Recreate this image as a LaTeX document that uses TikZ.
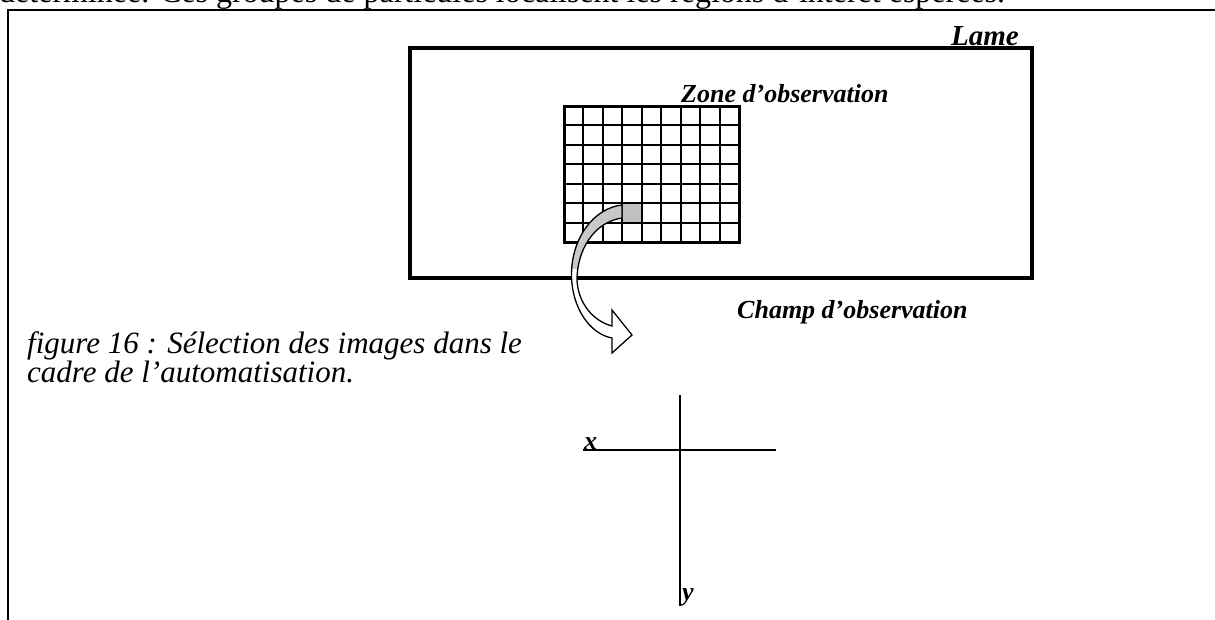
\documentclass[tikz,border=0pt]{standalone}
\usepackage{fontspec}
\setmainfont{Liberation Serif}
\definecolor{cellgray}{RGB}{192,192,192}
\definecolor{arrowgray}{RGB}{200,200,200}
\tikzset{
  lbl/.style={font=\fontsize{26}{30}\selectfont\bfseries\itshape, inner sep=0pt},
  biglbl/.style={font=\fontsize{29}{33}\selectfont\bfseries\itshape, inner sep=0pt},
  captxt/.style={font=\fontsize{31}{29}\selectfont\itshape, inner sep=0pt},
  bodytxt/.style={font=\fontsize{32}{36}\selectfont, inner sep=0pt},
  gridline/.style={line width=1.8pt},
  axisline/.style={line width=2pt},
  framebox/.style={line width=2pt},
}
\begin{document}
\begin{tikzpicture}[x=1pt,y=-1pt]
\useasboundingbox (0,0) rectangle (1215,619);
\clip (0,0) rectangle (1215,619);

% cut-off text line at the top
\node[bodytxt, anchor=base west] (toptext) at (-1,2.5)
  {déterminée. Ces groupes de particules localisent les régions d’intérêt espérées.};

% page frame
\coordinate (fbl) at (8,625);
\coordinate (ftl) at (8,10);
\coordinate (ftr) at (1220,10);
\draw[framebox] (fbl) -- (ftl) -- (ftr);

% slide (Lame)
\node[draw, line width=4pt, minimum width=622pt, minimum height=230pt, inner sep=0pt, outer sep=0pt] (lame) at (721,163) {};
\node[biglbl, anchor=base east] (lamelbl) at (1019,45.5) {Lame};

% observation zone grid
\node[minimum width=175pt, minimum height=136pt, inner sep=0pt, outer sep=0pt] (zone) at (651.5,174) {};
\node[fill=cellgray, minimum width=20pt, minimum height=20pt, inner sep=0pt, outer sep=0pt] (hcell) at (632,213) {};
\foreach \xx in {583,603,622,642,661,681,700,720} \draw[gridline] (\xx,106) -- (\xx,242);
\foreach \yy in {125,145,164,184,203,223} \draw[gridline] (564,\yy) -- (739,\yy);
\draw[line width=3pt] (zone.north west) rectangle (zone.south east);
\node[lbl, anchor=base west] (zonelbl) at (681,102) {Zone d’observation};

% curved arrow
\def\arrowshape{(622,205) .. controls (594,208) and (571,238) .. (571.5,276)
  .. controls (572,308) and (590,334) .. (612,338) -- (612,353) -- (632,335)
  -- (612,310) -- (612,326) .. controls (593,321) and (578,303) .. (577,280)
  .. controls (577,250) and (594,222) .. (622,218) -- cycle}
\fill[white] \arrowshape;
\begin{scope}
  \clip (560,195) rectangle (630,268);
  \fill[arrowgray] \arrowshape;
\end{scope}
\draw[line width=1.3pt, line join=miter] \arrowshape;

\node[lbl, anchor=base west] (champlbl) at (737,318) {Champ d’observation};

% caption
\node[captxt, anchor=base west] (cap1) at (27,353) {figure 16 : Sélection des images dans le};
\node[captxt, anchor=base west] (cap2) at (27,382.5) {cadre de l’automatisation.};

% axes
\coordinate (xl) at (583,450);
\coordinate (xr) at (776,450);
\coordinate (yt) at (680,395);
\coordinate (yb) at (680,606);
\draw[axisline] (xl) -- (xr);
\draw[axisline] (yt) -- (yb);
\node[lbl, anchor=base west] (xlbl) at (584,449) {x};
\node[lbl, anchor=base west] (ylbl) at (682,600) {y};
\end{tikzpicture}
\end{document}
